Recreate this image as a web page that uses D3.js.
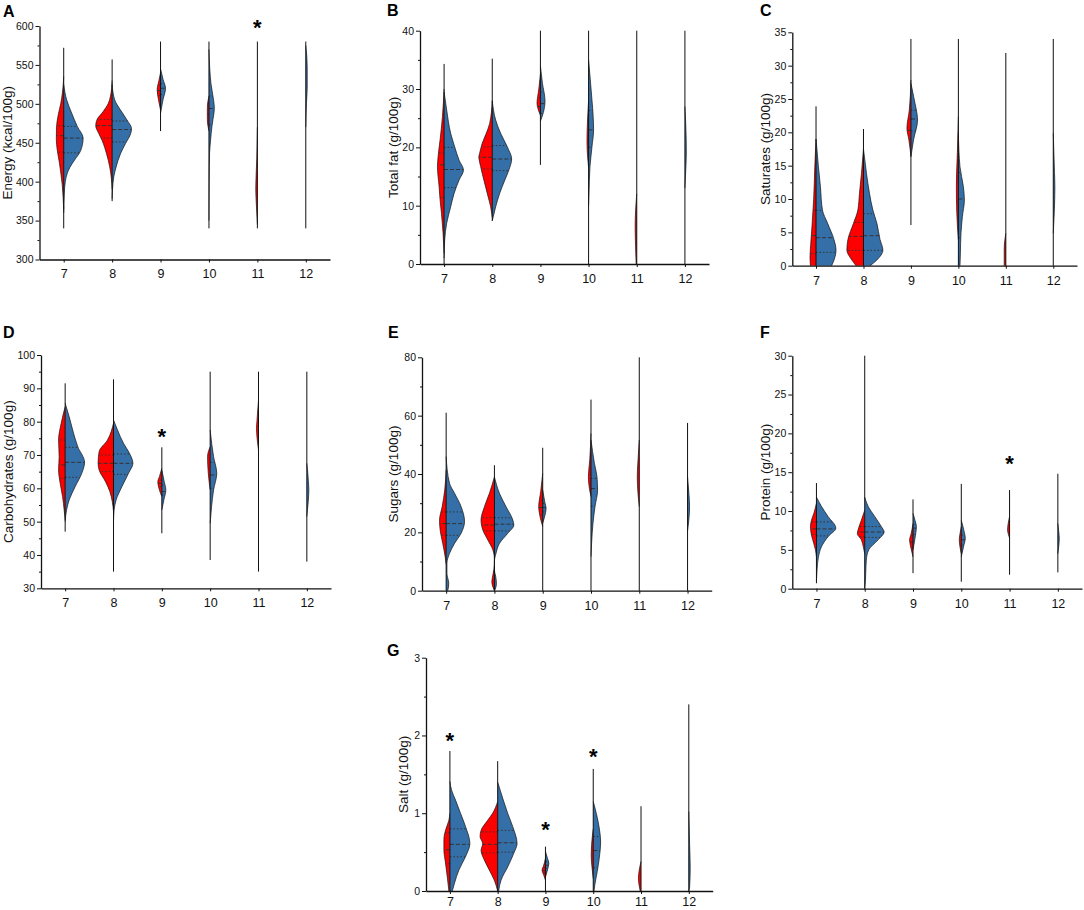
<!DOCTYPE html>
<html>
<head>
<meta charset="utf-8">
<script src="https://cdn.jsdelivr.net/npm/d3@7"></script>
<style>
  body { margin: 0; background: #fff; }
  svg { display: block; font-family: "Liberation Sans", Arial, sans-serif; }
</style>
</head>
<body>
<svg id="chart" width="1084" height="910"></svg>
<script>
const categories = ['7', '8', '9', '10', '11', '12'];

// each half violin: [value, relative density] knots; quartiles: [q3, median, q1]

// A - Energy (kcal/100g)
const energyTicks = [300, 350, 400, 450, 500, 550, 600];
const energyMinor = [325, 375, 425, 475, 525, 575];
const energyRange = [[340, 572], [375, 557], [465, 580], [340, 580], [340, 580], [340, 580]];
const energyRed = [
    [[535, 0], [515, 0.06], [500, 0.15], [485, 0.28], [470, 0.36], [455, 0.37], [440, 0.32], [425, 0.22], [410, 0.14], [395, 0.07], [380, 0.03], [365, 0]],
    [[530, 0], [510, 0.08], [500, 0.2], [490, 0.45], [480, 0.75], [472, 0.82], [462, 0.67], [453, 0.5], [436, 0.28], [419, 0.12], [405, 0.04], [390, 0]],
    [[540, 0], [530, 0.08], [518, 0.17], [505, 0.1], [492, 0]],
    [[510, 0], [495, 0.08], [480, 0.08], [465, 0]],
    [[470, 0], [430, 0.03], [390, 0.08], [370, 0.05], [345, 0]],
    []
];
const energyBlue = [
    [[525, 0], [505, 0.15], [488, 0.4], [471, 0.68], [456, 0.97], [440, 0.85], [428, 0.55], [418, 0.3], [411, 0.18], [400, 0.08], [385, 0.03], [360, 0]],
    [[525, 0], [505, 0.13], [492, 0.42], [479, 0.75], [468, 0.97], [462, 0.93], [449, 0.67], [436, 0.42], [419, 0.2], [406, 0.08], [390, 0.02], [378, 0]],
    [[545, 0], [531, 0.13], [520, 0.25], [505, 0.12], [488, 0]],
    [[570, 0], [545, 0.04], [526, 0.1], [505, 0.23], [494, 0.27], [480, 0.2], [471, 0.15], [453, 0.08], [436, 0.03], [400, 0.01], [350, 0]],
    [],
    [[575, 0], [548, 0.07], [520, 0.07], [500, 0.03], [470, 0]]
];
const energyRedQuart = [[472, 459, 438], [480, 472, 456], [524, 517, 511], [500, 487, 475], [], []];
const energyBlueQuart = [[471, 456, 437], [478, 467, 451], [526, 520, 512], [510, 494, 473], [], []];
const energyStars = [['11', 604]];

// B - Total fat (g/100g)
const fatTicks = [0, 10, 20, 30, 40];
const fatMinor = [5, 15, 25, 35];
const fatRange = [[0, 34.3], [7.4, 35.2], [17, 40], [0, 40], [0, 40], [0, 40]];
const fatRed = [
    [[30, 0], [25.3, 0.08], [21.3, 0.2], [18.4, 0.3], [16.7, 0.33], [13.3, 0.25], [11, 0.2], [8.7, 0.13], [5.3, 0.05], [1.8, 0]],
    [[28, 0], [24.1, 0.13], [22.4, 0.3], [20.7, 0.5], [19, 0.63], [18.4, 0.67], [16.7, 0.58], [14.4, 0.42], [12.1, 0.25], [9.8, 0.08], [8, 0]],
    [[32.5, 0], [30, 0.08], [27.5, 0.17], [26.4, 0.1], [25.5, 0]],
    [[28, 0], [24, 0.06], [21, 0.08], [18, 0.04], [16.5, 0]],
    [[12, 0], [9, 0.06], [6.4, 0.08], [3, 0.06], [0, 0.03]],
    []
];
const fatBlue = [
    [[29.5, 0], [26.4, 0.13], [22.4, 0.33], [20.1, 0.53], [17.8, 0.75], [16.1, 0.97], [14.4, 0.75], [12.1, 0.5], [9.8, 0.33], [7, 0.13], [4.1, 0.03], [1, 0]],
    [[28, 0], [24.7, 0.17], [22.4, 0.42], [20.1, 0.75], [18, 0.97], [16.1, 0.83], [14.4, 0.63], [12.1, 0.37], [9.8, 0.17], [8.1, 0.05], [7.4, 0]],
    [[34, 0], [31, 0.1], [28, 0.23], [26, 0.15], [24.5, 0]],
    [[35, 0], [31, 0.1], [28.1, 0.17], [25.3, 0.23], [23, 0.25], [20.1, 0.17], [16.7, 0.07], [12, 0.02], [10, 0]],
    [],
    [[27, 0], [22, 0.06], [19, 0.07], [16, 0.04], [13, 0]]
];
const fatRedQuart = [[19, 17, 11.4], [20.1, 18.3, 16.3], [28.5, 27, 26], [], [], []];
const fatBlueQuart = [[20, 16.2, 13.1], [20.3, 18, 16], [29.5, 27.5, 25.8], [26.3, 23, 20], [], []];
const fatStars = [];

// C - Saturates (g/100g)
const satTicks = [0, 5, 10, 15, 20, 25, 30, 35];
const satMinor = [2.5, 7.5, 12.5, 17.5, 22.5, 27.5, 32.5];
const satRange = [[0, 23.9], [0, 20.5], [6.1, 34], [0, 34], [0, 31.9], [0, 34]];
const satRed = [
    [[19, 0], [14.85, 0.06], [9.85, 0.12], [6, 0.2], [3, 0.27], [1.3, 0.3], [0, 0.28]],
    [[17.5, 0], [13.85, 0.1], [10.85, 0.2], [8.35, 0.28], [6.35, 0.5], [3.9, 0.78], [2.35, 0.83], [0.85, 0.58], [0, 0.37]],
    [[27.85, 0], [23.35, 0.08], [20.6, 0.2], [18.85, 0.1], [16.35, 0]],
    [[22.35, 0], [17, 0.05], [12, 0.1], [8, 0.08], [3.85, 0]],
    [[4.85, 0], [2.5, 0.08], [0, 0.08]],
    []
];
const satBlue = [
    [[19, 0], [14.85, 0.12], [11.85, 0.22], [8.35, 0.32], [6.35, 0.58], [3.9, 0.9], [2.35, 1.0], [0.85, 0.9], [0, 0.78]],
    [[17.5, 0], [13.85, 0.15], [10.85, 0.3], [8.35, 0.47], [6.35, 0.67], [3.9, 0.83], [2.35, 0.97], [0.85, 0.67], [0, 0.33]],
    [[27.35, 0], [24.85, 0.17], [21.85, 0.33], [18.85, 0.13], [16.35, 0]],
    [[19.85, 0], [14.85, 0.08], [11.85, 0.25], [9.85, 0.3], [7.35, 0.2], [4.85, 0.13], [1.85, 0.1], [0, 0.08]],
    [],
    [[19.85, 0], [14, 0.06], [11.85, 0.08], [8, 0.05], [4.85, 0]]
];
const satRedQuart = [[8.3, 4.5, 1.8], [6.5, 4.4, 2.3], [22, 20.3, 19], [], [], []];
const satBlueQuart = [[8.3, 4.2, 2], [7.8, 4.5, 2.3], [23.3, 22, 20.2], [14, 10, 4.2], [], []];
const satStars = [];

// D - Carbohydrates (g/100g)
const carbTicks = [30, 40, 50, 60, 70, 80, 90, 100];
const carbMinor = [35, 45, 55, 65, 75, 85, 95];
const carbRange = [[47, 91.5], [35, 92.7], [46.5, 72.3], [38.5, 95], [35, 95], [38, 95]];
const carbRed = [
    [[84.5, 0], [79.5, 0.2], [74.5, 0.33], [69.5, 0.3], [65.5, 0.33], [61.5, 0.25], [57.5, 0.13], [53.5, 0.05], [50.5, 0]],
    [[79.5, 0], [74.5, 0.3], [71, 0.72], [67.5, 0.77], [65.5, 0.72], [62, 0.4], [59, 0.18], [56, 0.06], [53, 0]],
    [[66, 0], [63.5, 0.12], [62, 0.2], [59.5, 0.12], [57.5, 0]],
    [[72.5, 0], [69.5, 0.13], [65, 0.1], [59.5, 0]],
    [[86.5, 0], [80, 0.08], [78, 0.1], [75, 0.07], [71.5, 0]],
    []
];
const carbBlue = [
    [[85.5, 0], [81.5, 0.2], [76.5, 0.42], [72.5, 0.63], [67.8, 0.97], [64.5, 0.83], [60.5, 0.5], [56.5, 0.2], [53.5, 0.07], [50, 0]],
    [[80.5, 0], [77.5, 0.2], [73.5, 0.5], [70.5, 0.8], [67.5, 0.97], [64.5, 0.75], [60.5, 0.42], [56.5, 0.13], [53.5, 0.03], [50, 0]],
    [[65.5, 0], [62, 0.12], [59.5, 0.2], [56.5, 0.1], [53.5, 0]],
    [[77.5, 0], [69.5, 0.17], [64.5, 0.33], [59.5, 0.17], [54.5, 0.07], [49.5, 0]],
    [],
    [[67.5, 0], [62, 0.08], [59.5, 0.1], [56, 0.07], [51.5, 0]]
];
const carbRedQuart = [[74.5, 67, 63], [70, 67.5, 65], [62.5, 61.5, 60.5], [], [], []];
const carbBlueQuart = [[72.3, 67.8, 63.3], [70.3, 67.5, 64.2], [61, 59, 58], [67.8, 64, 60], [], []];
const carbStars = [['9', 77]];

// E - Sugars (g/100g)
const sugarTicks = [0, 20, 40, 60, 80];
const sugarMinor = [10, 30, 50, 70];
const sugarRange = [[0, 61], [0, 43], [0, 49], [0, 65.5], [0, 80], [0, 57.5]];
const sugarRed = [
    [[41.4, 0], [34.5, 0.07], [28.8, 0.2], [24.2, 0.33], [20.8, 0.3], [16.2, 0.17], [11.7, 0.05], [9, 0]],
    [[39, 0], [33.4, 0.25], [28.8, 0.5], [24.2, 0.67], [20.8, 0.58], [17.4, 0.33], [14, 0.08], [11, 0], [9, 0], [6, 0.06], [3, 0.13], [1, 0.06], [0, 0]],
    [[40.2, 0], [34, 0.1], [28.8, 0.2], [25, 0.12], [22, 0]],
    [[53.9, 0], [45, 0.06], [39, 0.13], [35, 0.08], [32.2, 0]],
    [[51.7, 0], [45, 0.06], [39, 0.1], [33, 0.06], [28.8, 0]],
    []
];
const sugarBlue = [
    [[46, 0], [36.8, 0.17], [33.4, 0.42], [28.8, 0.75], [23.7, 0.92], [19.7, 0.75], [16.2, 0.42], [12.8, 0.17], [9.4, 0.04], [5.9, 0.04], [2.5, 0.13], [0, 0.08]],
    [[39, 0], [33.4, 0.25], [28.8, 0.58], [24.2, 0.92], [22.5, 0.97], [19.7, 0.67], [16.2, 0.25], [12.8, 0.08], [10, 0], [7, 0], [5, 0.06], [2.5, 0.1], [0.5, 0.04], [0, 0]],
    [[34.5, 0], [30.5, 0.1], [28.2, 0.17], [25.5, 0.1], [23.1, 0]],
    [[51.7, 0], [43.7, 0.17], [39, 0.3], [34.5, 0.33], [28.8, 0.2], [23.1, 0.1], [16.2, 0.03], [11.7, 0]],
    [],
    [[39, 0], [33, 0.07], [28.8, 0.1], [24, 0.06], [20.5, 0]]
];
const sugarRedQuart = [[27, 23, 19], [25, 22.5, 20.5], [31, 28.5, 26], [], [], []];
const sugarBlueQuart = [[27, 23, 19], [25, 22.8, 20.5], [30, 28.5, 27], [38.5, 35, 29], [], []];
const sugarStars = [];

// F - Protein (g/100g)
const proteinTicks = [0, 5, 10, 15, 20, 25, 30];
const proteinMinor = [2.5, 7.5, 12.5, 17.5, 22.5, 27.5];
const proteinRange = [[0.7, 13.6], [0, 30], [2, 11.5], [0.9, 13.5], [1.8, 12.7], [2.1, 14.8]];
const proteinRed = [
    [[11, 0], [9.7, 0.13], [8.8, 0.25], [8, 0.3], [6.9, 0.25], [5.8, 0.13], [5, 0.05], [4.1, 0]],
    [[10.1, 0], [8.8, 0.17], [7.6, 0.33], [7.1, 0.37], [6.3, 0.17], [5.4, 0.07], [4.5, 0]],
    [[8.4, 0], [7, 0.1], [6.3, 0.17], [5.2, 0.1], [4.1, 0]],
    [[8, 0], [7, 0.07], [6.3, 0.1], [5.3, 0.06], [4.5, 0]],
    [[9.3, 0], [8.2, 0.08], [7.6, 0.1], [7, 0.06], [6.5, 0]],
    []
];
const proteinBlue = [
    [[11.8, 0], [10.6, 0.25], [9.3, 0.58], [7.8, 0.97], [6.7, 0.58], [5.4, 0.25], [4.1, 0.1], [2.4, 0.03], [1, 0]],
    [[11.8, 0], [10.6, 0.17], [9.3, 0.5], [8, 0.83], [7.3, 0.97], [6.3, 0.67], [5, 0.2], [3.7, 0.08], [2, 0.05], [0.5, 0.02], [0, 0]],
    [[9.7, 0], [8.8, 0.1], [8, 0.17], [6.5, 0.1], [5, 0]],
    [[8.8, 0], [7.5, 0.13], [6.5, 0.2], [5.5, 0.12], [4.1, 0]],
    [],
    [[8.4, 0], [7.2, 0.05], [6.5, 0.07], [5.6, 0.05], [4.5, 0]]
];
const proteinRedQuart = [[8.6, 7.7, 7], [8, 7.3, 6.7], [6.8, 6, 5.3], [], [], []];
const proteinBlueQuart = [[8.6, 7.7, 6.8], [8, 7.3, 6.6], [8.3, 7.8, 7], [6.9, 6.3, 5.6], [], []];
const proteinStars = [['11', 16.7]];

// G - Salt (g/100g)
const saltTicks = [0, 1, 2, 3];
const saltMinor = [0.5, 1.5, 2.5];
const saltRange = [[0, 1.8], [0, 1.67], [0, 0.57], [0, 1.57], [0, 1.09], [0, 2.4]];
const saltRed = [
    [[1.0, 0], [0.91, 0.05], [0.78, 0.22], [0.66, 0.3], [0.53, 0.3], [0.36, 0.22], [0.18, 0.13], [0, 0.05]],
    [[1.15, 0], [1.0, 0.25], [0.91, 0.5], [0.78, 0.83], [0.7, 0.88], [0.61, 0.75], [0.52, 0.83], [0.4, 0.67], [0.27, 0.42], [0.14, 0.17], [0, 0]],
    [[0.42, 0], [0.32, 0.1], [0.27, 0.17], [0.2, 0.08], [0.14, 0]],
    [[0.8, 0], [0.6, 0.08], [0.45, 0.1], [0.3, 0.06], [0.16, 0]],
    [[0.38, 0], [0.25, 0.1], [0.16, 0.13], [0.05, 0.08], [0, 0.04]],
    []
];
const saltBlue = [
    [[1.41, 0], [1.3, 0.08], [1.17, 0.28], [1.0, 0.53], [0.83, 0.78], [0.61, 1.0], [0.44, 0.78], [0.27, 0.45], [0.1, 0.23], [0, 0.12]],
    [[1.4, 0], [1.17, 0.28], [1.0, 0.5], [0.83, 0.75], [0.61, 0.97], [0.5, 0.83], [0.31, 0.5], [0.14, 0.17], [0, 0.05]],
    [[0.51, 0], [0.42, 0.1], [0.36, 0.17], [0.27, 0.1], [0.18, 0]],
    [[1.15, 0], [0.98, 0.17], [0.81, 0.3], [0.63, 0.37], [0.42, 0.3], [0.25, 0.2], [0.08, 0.08], [0, 0.04]],
    [],
    [[1.02, 0], [0.6, 0.04], [0.3, 0.07], [0.05, 0.04], [0, 0]]
];
const saltRedQuart = [[0.75, 0.53, 0.35], [0.76, 0.6, 0.49], [0.3, 0.26, 0.23], [], [], []];
const saltBlueQuart = [[0.8, 0.6, 0.44], [0.78, 0.62, 0.5], [0.38, 0.33, 0.29], [0.7, 0.52, 0.3], [], []];
const saltStars = [['7', 2.0], ['9', 0.85], ['10', 1.8]];

// panel frames on the page
const panels = [
    { letter: 'A', label: 'Energy (kcal/100g)', ticks: energyTicks, minor: energyMinor, range: energyRange, red: energyRed, blue: energyBlue, redQ: energyRedQuart, blueQ: energyBlueQuart, stars: energyStars,
      box: { left: 39.5, right: 330, top: 26, bottom: 259.5 }, letterPos: [3, 17], labelX: 7, pad: 7 },
    { letter: 'B', label: 'Total fat (g/100g)', ticks: fatTicks, minor: fatMinor, range: fatRange, red: fatRed, blue: fatBlue, redQ: fatRedQuart, blueQ: fatBlueQuart, stars: fatStars,
      box: { left: 420, right: 709, top: 30.7, bottom: 264 }, letterPos: [387, 16], labelX: 393, pad: 7 },
    { letter: 'C', label: 'Saturates (g/100g)', ticks: satTicks, minor: satMinor, range: satRange, red: satRed, blue: satBlue, redQ: satRedQuart, blueQ: satBlueQuart, stars: satStars,
      box: { left: 792.3, right: 1077, top: 32.3, bottom: 265.7 }, letterPos: [760, 16], labelX: 765, pad: 7 },
    { letter: 'D', label: 'Carbohydrates (g/100g)', ticks: carbTicks, minor: carbMinor, range: carbRange, red: carbRed, blue: carbBlue, redQ: carbRedQuart, blueQ: carbBlueQuart, stars: carbStars,
      box: { left: 41, right: 331, top: 355, bottom: 588.3 }, letterPos: [3, 338], labelX: 8, pad: 7 },
    { letter: 'E', label: 'Sugars (g/100g)', ticks: sugarTicks, minor: sugarMinor, range: sugarRange, red: sugarRed, blue: sugarBlue, redQ: sugarRedQuart, blueQ: sugarBlueQuart, stars: sugarStars,
      box: { left: 422, right: 711.7, top: 357.3, bottom: 590.7 }, letterPos: [388, 338], labelX: 393, pad: 7 },
    { letter: 'F', label: 'Protein (g/100g)', ticks: proteinTicks, minor: proteinMinor, range: proteinRange, red: proteinRed, blue: proteinBlue, redQ: proteinRedQuart, blueQ: proteinBlueQuart, stars: proteinStars,
      box: { left: 792.3, right: 1082, top: 355.7, bottom: 588.7 }, letterPos: [760, 338], labelX: 765, pad: 7 },
    { letter: 'G', label: 'Salt (g/100g)', ticks: saltTicks, minor: saltMinor, range: saltRange, red: saltRed, blue: saltBlue, redQ: saltRedQuart, blueQ: saltBlueQuart, stars: saltStars,
      box: { left: 426, right: 712.7, top: 657.7, bottom: 891 }, letterPos: [387, 656], labelX: 403, pad: 3 }
];

const RED = '#ff0000';
const BLUE = '#356fa7';
const svg = d3.select('#chart');

// relative density -> half width in px
const wScale = d3.scaleLinear().domain([0, 1]).range([0, 20]);

const widthAt = (profile, v) => {
    for (let i = 0; i < profile.length - 1; i++) {
        if (v >= profile[i][0] && v <= profile[i + 1][0]) {
            const t = (v - profile[i][0]) / (profile[i + 1][0] - profile[i][0] || 1);
            return profile[i][1] + t * (profile[i + 1][1] - profile[i][1]);
        }
    }
    return 0;
};

const drawHalf = (g, profile, quart, cx, y, side, color) => {
    if (profile.length < 2) return;
    const p = profile.slice().sort((a, b) => a[0] - b[0]);
    const area = d3.area()
        .curve(d3.curveMonotoneY)
        .y((d) => y(d[0]))
        .x0(cx)
        .x1((d) => cx + side * wScale(d[1]));
    const edge = d3.line()
        .curve(d3.curveMonotoneY)
        .y((d) => y(d[0]))
        .x((d) => cx + side * wScale(d[1]));

    g.append('path').attr('d', area(p)).attr('fill', color);
    g.append('path').attr('d', edge(p)).attr('fill', 'none').attr('stroke', '#111').attr('stroke-width', 0.7);

    quart.forEach((q, i) => {
        const w = wScale(widthAt(p, q));
        if (w < 1) return;
        g.append('line')
            .attr('x1', cx)
            .attr('x2', cx + side * w)
            .attr('y1', y(q))
            .attr('y2', y(q))
            .attr('stroke', '#333')
            .attr('stroke-width', 1)
            .attr('stroke-dasharray', i === 1 ? '4,2' : '1.5,2');
    });
};

panels.forEach((pn) => {
    const b = pn.box;
    const g = svg.append('g');

    const x = d3.scalePoint().domain(categories).range([b.left, b.right]).padding(0.5);
    const y = d3.scaleLinear()
        .domain([pn.ticks[0], pn.ticks[pn.ticks.length - 1]])
        .range([b.bottom, b.top]);

    // violins
    categories.forEach((c, i) => {
        const cx = x(c);
        const vg = g.append('g');
        drawHalf(vg, pn.red[i], pn.redQ[i], cx, y, -1, RED);
        drawHalf(vg, pn.blue[i], pn.blueQ[i], cx, y, 1, BLUE);
        vg.append('line')
            .attr('x1', cx).attr('x2', cx)
            .attr('y1', y(pn.range[i][0]))
            .attr('y2', y(pn.range[i][1]))
            .attr('stroke', '#111')
            .attr('stroke-width', 1);
    });

    // axes
    const yAxis = g.append('g')
        .attr('transform', `translate(${b.left},0)`)
        .call(d3.axisLeft(y).tickValues(pn.ticks).tickFormat(d3.format('~g')).tickSize(4).tickSizeOuter(0).tickPadding(2));
    yAxis.selectAll('text').style('font-size', '10.5px').attr('fill', '#111');

    const yMinor = g.append('g')
        .attr('transform', `translate(${b.left},0)`)
        .call(d3.axisLeft(y).tickValues(pn.minor).tickSize(2).tickFormat(''));
    yMinor.select('.domain').remove();

    const xAxis = g.append('g')
        .attr('transform', `translate(0,${b.bottom})`)
        .call(d3.axisBottom(x).tickSize(3).tickSizeOuter(0).tickPadding(pn.pad));
    xAxis.selectAll('text').style('font-size', '12.5px').attr('fill', '#111');

    g.selectAll('.domain').attr('stroke', '#111').attr('stroke-width', 1.3);
    g.selectAll('.tick line').attr('stroke', '#111').attr('stroke-width', 1);

    // axis title
    g.append('text')
        .attr('transform', `translate(${pn.labelX},${(b.top + b.bottom) / 2}) rotate(-90)`)
        .attr('text-anchor', 'middle')
        .attr('dominant-baseline', 'central')
        .style('font-size', '13.5px')
        .attr('fill', '#111')
        .text(pn.label);

    // panel letter
    g.append('text')
        .attr('x', pn.letterPos[0])
        .attr('y', pn.letterPos[1])
        .style('font-size', '16px')
        .style('font-weight', 'bold')
        .attr('fill', '#000')
        .text(pn.letter);

    // significance marks
    pn.stars.forEach(([c, v]) => {
        g.append('text')
            .attr('x', x(c))
            .attr('y', y(v) + 12.5)
            .attr('text-anchor', 'middle')
            .style('font-size', '22px')
            .style('font-weight', 'bold')
            .attr('fill', '#000')
            .text('*');
    });
});
</script>
</body>
</html>
